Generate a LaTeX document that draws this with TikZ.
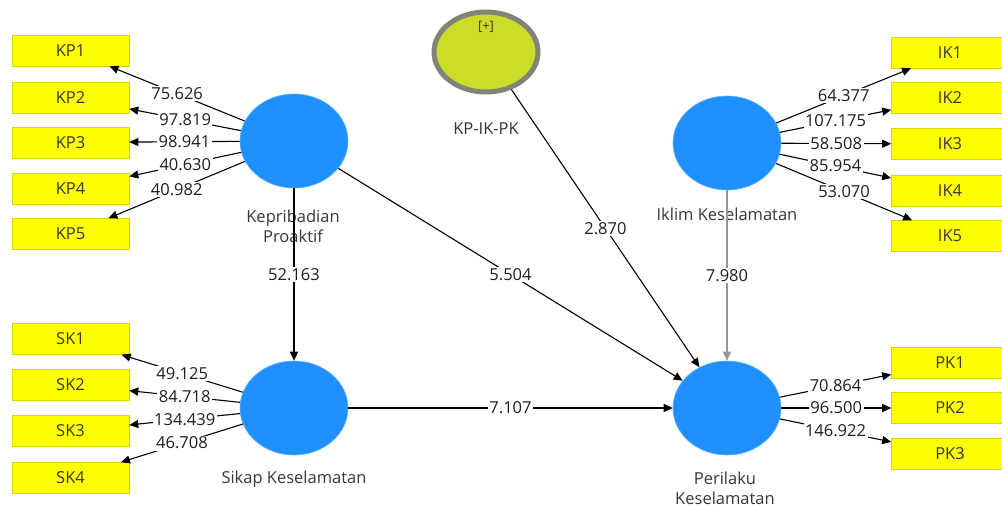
\documentclass[tikz,border=0pt]{standalone}
\usepackage{fontspec}
\setmainfont{Open Sans}
\usetikzlibrary{shapes.geometric,arrows.meta}
\definecolor{lvblue}{RGB}{30,144,255}
\definecolor{boxyellow}{RGB}{255,255,0}
\definecolor{boxedge}{RGB}{215,215,0}
\definecolor{modfill}{RGB}{204,220,40}
\definecolor{modedge}{RGB}{128,132,120}
\definecolor{txtgrey}{RGB}{55,55,55}
\definecolor{pathgrey}{RGB}{150,150,150}
\tikzset{
  latent/.style={ellipse, fill=lvblue, draw=lvblue!70!white, line width=0.6pt, minimum width=108pt, minimum height=94pt, inner sep=0pt},
  modlatent/.style={ellipse, fill=modfill, draw=modedge, line width=5pt, minimum width=104pt, minimum height=80pt, inner sep=0pt},
  indic/.style={rectangle, fill=boxyellow, draw=boxedge, line width=0.6pt, minimum width=117pt, minimum height=31pt, inner sep=0pt, text=txtgrey, font=\fontsize{16.5}{18}\selectfont},
  lvlabel/.style={text=txtgrey, font=\fontsize{16.5}{20}\selectfont, align=center, inner sep=0pt},
  conn/.style={line width=1.1pt, -{Triangle[length=9pt,width=8pt]}},
  val/.style={midway, fill=white, inner sep=1.5pt, text=black!88, font=\fontsize{16.5}{18}\selectfont}
}
\begin{document}
\begin{tikzpicture}[x=1pt,y=-1pt]
\useasboundingbox[fill=white] (0,0) rectangle (1002,508);
% latent variables
\node[latent] (KP) at (294,141) {};
\node[latent] (SK) at (294,408) {};
\node[latent] (IK) at (727,143) {};
\node[latent] (PK) at (727,408) {};
\node[modlatent] (MOD) at (486,52) {};
\node[text=txtgrey, font=\fontsize{13}{15}\selectfont, inner sep=0pt] (plus) at (486,27) {[+]};
% labels of latent variables
\node[lvlabel] (KPl) at (293,226) {Kepribadian\\Proaktif};
\node[lvlabel] (SKl) at (294,479) {Sikap Keselamatan};
\node[lvlabel] (IKl) at (727,214) {Iklim Keselamatan};
\node[lvlabel] (PKl) at (725,488) {Perilaku\\Keselamatan};
\node[lvlabel] (MODl) at (486,129) {KP-IK-PK};
% indicators
\node[indic] (KP1) at (70.5,50.5) {KP1};
\node[indic] (KP2) at (70.5,97.5) {KP2};
\node[indic] (KP3) at (70.5,142.5) {KP3};
\node[indic] (KP4) at (70.5,189) {KP4};
\node[indic] (KP5) at (70.5,234) {KP5};
\node[indic] (SK1) at (70.5,339) {SK1};
\node[indic] (SK2) at (70.5,384.5) {SK2};
\node[indic] (SK3) at (70.5,431) {SK3};
\node[indic] (SK4) at (70.5,478) {SK4};
\node[indic] (IK1) at (950,52.5) {IK1};
\node[indic] (IK2) at (950,98) {IK2};
\node[indic] (IK3) at (950,144) {IK3};
\node[indic] (IK4) at (950,190.5) {IK4};
\node[indic] (IK5) at (950,236) {IK5};
\node[indic] (PK1) at (950,362.5) {PK1};
\node[indic] (PK2) at (950,408) {PK2};
\node[indic] (PK3) at (950,454) {PK3};
% outer loadings
\draw[conn] (KP) -- (KP1) node[val] {75.626};
\draw[conn] (KP) -- (KP2) node[val] {97.819};
\draw[conn] (KP) -- (KP3) node[val] {98.941};
\draw[conn] (KP) -- (KP4) node[val] {40.630};
\draw[conn] (KP) -- (KP5) node[val] {40.982};
\draw[conn] (SK) -- (SK1) node[val] {49.125};
\draw[conn] (SK) -- (SK2) node[val] {84.718};
\draw[conn] (SK) -- (SK3) node[val] {134.439};
\draw[conn] (SK) -- (SK4) node[val] {46.708};
\draw[conn] (IK) -- (IK1) node[val] {64.377};
\draw[conn] (IK) -- (IK2) node[val] {107.175};
\draw[conn] (IK) -- (IK3) node[val] {58.508};
\draw[conn] (IK) -- (IK4) node[val] {85.954};
\draw[conn] (IK) -- (IK5) node[val] {53.070};
\draw[conn] (PK) -- (PK1) node[val] {70.864};
\draw[conn] (PK) -- (PK2) node[val] {96.500};
\draw[conn] (PK) -- (PK3) node[val] {146.922};
% inner paths
\draw[conn] (KP) -- (SK) node[val] {52.163};
\draw[conn] (KP) -- (PK) node[val] {5.504};
\draw[conn] (MOD) -- (PK) node[val] {2.870};
\draw[conn, draw=pathgrey] (IK) -- (PK) node[val] {7.980};
\draw[conn] (SK) -- (PK) node[val] {7.107};
\end{tikzpicture}
\end{document}
